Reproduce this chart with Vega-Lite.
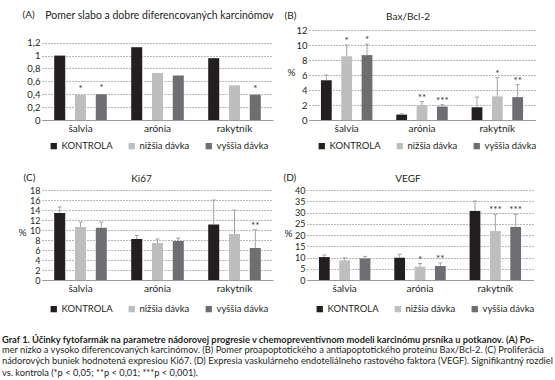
{
  "$schema": "https://vega.github.io/schema/vega-lite/v6.json",
  "padding": {"left": 1, "top": 9, "right": 0, "bottom": 0},
  "autosize": {"type": "pad"},
  "background": "white",
  "config": {
    "font": "Lato",
    "view": {"stroke": null},
    "axis": {"labelFont": "Lato", "labelFontSize": 10, "labelColor": "#231f20", "titleFont": "Lato", "titleFontSize": 10, "titleFontWeight": "normal", "titleColor": "#231f20"},
    "axisX": {"ticks": false, "domainColor": "#9a9a9a", "domainWidth": 1, "labelAngle": 0, "labelPadding": 3, "grid": false},
    "axisY": {"ticks": false, "domain": false, "labelPadding": 2, "labelFontSize": 9.5, "grid": true, "gridColor": "#6d6e71", "gridWidth": 1, "gridDash": [1, 2], "labelOverlap": false},
    "legend": {"orient": "none", "direction": "horizontal", "symbolType": "square", "symbolSize": 40, "symbolStrokeWidth": 0, "labelFont": "Lato", "labelFontSize": 9.5, "labelColor": "#231f20", "columnPadding": 14, "labelOffset": 3, "padding": 0},
    "title": {"font": "Lato", "fontSize": 10, "fontWeight": "normal", "color": "#231f20", "frame": "group"}
  },
  "title": {
    "text": "Graf 1. Účinky fytofarmák na parametre nádorovej progresie v chemopreventívnom modeli karcinómu prsníka u potkanov. (A) Po-",
    "subtitle": [
      "mer nízko a vysoko diferencovaných karcinómov. (B) Pomer proapoptotického a antiapoptotického proteínu Bax/Bcl-2. (C) Proliferácia",
      "nádorových buniek hodnotená expresiou Ki67. (D) Expresia vaskulárneho endoteliálneho rastového faktora (VEGF). Signifikantný rozdiel",
      "vs. kontrola (*p < 0,05; **p < 0,01; ***p < 0,001)."
    ],
    "orient": "bottom", "anchor": "start", "frame": "bounds", "dx": -16, "offset": 22,
    "font": "Lato", "fontSize": 9.3, "fontWeight": "bold", "color": "#231f20",
    "subtitleFont": "Lato", "subtitleFontSize": 9.3, "subtitleColor": "#231f20", "subtitleLineHeight": 11.7, "subtitlePadding": 0.5
  },
  "datasets": {
    "d": [
      {"panel": "A", "plant": "šalvia", "dose": "KONTROLA", "value": 1.0, "hi": 1.0, "sig": ""},
      {"panel": "A", "plant": "šalvia", "dose": "nižšia dávka", "value": 0.39, "hi": 0.39, "sig": "*"},
      {"panel": "A", "plant": "šalvia", "dose": "vyššia dávka", "value": 0.40, "hi": 0.40, "sig": "*"},
      {"panel": "A", "plant": "arónia", "dose": "KONTROLA", "value": 1.13, "hi": 1.13, "sig": ""},
      {"panel": "A", "plant": "arónia", "dose": "nižšia dávka", "value": 0.73, "hi": 0.73, "sig": ""},
      {"panel": "A", "plant": "arónia", "dose": "vyššia dávka", "value": 0.69, "hi": 0.69, "sig": ""},
      {"panel": "A", "plant": "rakytník", "dose": "KONTROLA", "value": 0.96, "hi": 0.96, "sig": ""},
      {"panel": "A", "plant": "rakytník", "dose": "nižšia dávka", "value": 0.54, "hi": 0.54, "sig": ""},
      {"panel": "A", "plant": "rakytník", "dose": "vyššia dávka", "value": 0.39, "hi": 0.39, "sig": "*"},
      {"panel": "B", "plant": "šalvia", "dose": "KONTROLA", "value": 5.3, "hi": 6.0, "sig": ""},
      {"panel": "B", "plant": "šalvia", "dose": "nižšia dávka", "value": 8.5, "hi": 10.0, "sig": "*"},
      {"panel": "B", "plant": "šalvia", "dose": "vyššia dávka", "value": 8.65, "hi": 10.1, "sig": "*"},
      {"panel": "B", "plant": "arónia", "dose": "KONTROLA", "value": 0.72, "hi": 0.82, "sig": ""},
      {"panel": "B", "plant": "arónia", "dose": "nižšia dávka", "value": 2.0, "hi": 2.45, "sig": "**"},
      {"panel": "B", "plant": "arónia", "dose": "vyššia dávka", "value": 1.8, "hi": 2.05, "sig": "***"},
      {"panel": "B", "plant": "rakytník", "dose": "KONTROLA", "value": 1.7, "hi": 3.05, "sig": ""},
      {"panel": "B", "plant": "rakytník", "dose": "nižšia dávka", "value": 3.15, "hi": 5.65, "sig": "*"},
      {"panel": "B", "plant": "rakytník", "dose": "vyššia dávka", "value": 3.05, "hi": 4.7, "sig": "**"},
      {"panel": "C", "plant": "šalvia", "dose": "KONTROLA", "value": 13.4, "hi": 14.6, "sig": ""},
      {"panel": "C", "plant": "šalvia", "dose": "nižšia dávka", "value": 10.6, "hi": 11.6, "sig": ""},
      {"panel": "C", "plant": "šalvia", "dose": "vyššia dávka", "value": 10.45, "hi": 11.6, "sig": ""},
      {"panel": "C", "plant": "arónia", "dose": "KONTROLA", "value": 8.2, "hi": 8.9, "sig": ""},
      {"panel": "C", "plant": "arónia", "dose": "nižšia dávka", "value": 7.4, "hi": 8.2, "sig": ""},
      {"panel": "C", "plant": "arónia", "dose": "vyššia dávka", "value": 7.8, "hi": 8.4, "sig": ""},
      {"panel": "C", "plant": "rakytník", "dose": "KONTROLA", "value": 11.1, "hi": 16.0, "sig": ""},
      {"panel": "C", "plant": "rakytník", "dose": "nižšia dávka", "value": 9.2, "hi": 14.0, "sig": ""},
      {"panel": "C", "plant": "rakytník", "dose": "vyššia dávka", "value": 6.4, "hi": 10.05, "sig": "**"},
      {"panel": "D", "plant": "šalvia", "dose": "KONTROLA", "value": 10.2, "hi": 11.1, "sig": ""},
      {"panel": "D", "plant": "šalvia", "dose": "nižšia dávka", "value": 8.7, "hi": 9.9, "sig": ""},
      {"panel": "D", "plant": "šalvia", "dose": "vyššia dávka", "value": 9.6, "hi": 10.5, "sig": ""},
      {"panel": "D", "plant": "arónia", "dose": "KONTROLA", "value": 9.9, "hi": 11.4, "sig": ""},
      {"panel": "D", "plant": "arónia", "dose": "nižšia dávka", "value": 5.9, "hi": 7.3, "sig": "*"},
      {"panel": "D", "plant": "arónia", "dose": "vyššia dávka", "value": 6.2, "hi": 7.6, "sig": "**"},
      {"panel": "D", "plant": "rakytník", "dose": "KONTROLA", "value": 30.7, "hi": 35.1, "sig": ""},
      {"panel": "D", "plant": "rakytník", "dose": "nižšia dávka", "value": 21.8, "hi": 29.2, "sig": "***"},
      {"panel": "D", "plant": "rakytník", "dose": "vyššia dávka", "value": 23.6, "hi": 29.2, "sig": "***"}
    ]
  },
  "spacing": 21,
  "resolve": {"scale": {"color": "independent", "y": "independent", "x": "independent", "xOffset": "independent"}, "legend": {"color": "independent"}},
  "vconcat": [
    {
      "spacing": 10,
      "resolve": {"scale": {"color": "independent", "y": "independent", "x": "independent", "xOffset": "independent"}, "legend": {"color": "independent"}},
      "hconcat": [
        {
          "width": 231, "height": 90,
          "data": {"name": "d"},
          "transform": [{"filter": "datum.panel == 'A'"}],
          "title": {"text": "Pomer slabo a dobre diferencovaných karcinómov", "dx": 2, "offset": -12, "fontSize": 10.5},
          "encoding": {
            "x": {"field": "plant", "type": "nominal", "sort": ["šalvia", "arónia", "rakytník"], "scale": {"paddingInner": 0.19, "paddingOuter": 0.095},
                  "axis": {"title": "(A)", "titleX": -20, "titleY": -106, "titleAlign": "left", "titleBaseline": "middle", "titleAngle": 0}},
            "xOffset": {"field": "dose", "type": "nominal", "sort": ["KONTROLA", "nižšia dávka", "vyššia dávka"], "scale": {"paddingInner": 0.47, "paddingOuter": 0.235}}
          },
          "layer": [
            {
              "mark": {"type": "bar"},
              "encoding": {
                "y": {"field": "value", "type": "quantitative", "scale": {"domain": [0, 1.397], "nice": false},
                      "axis": {"title": null, "labelOverlap": false, "values": [0, 0.2, 0.4, 0.6, 0.8, 1, 1.2], "labelExpr": "replace(format(datum.value, '~g'), '.', ',')"}},
                "color": {"field": "dose", "type": "nominal", "scale": {"domain": ["KONTROLA", "nižšia dávka", "vyššia dávka"], "range": ["#231f20", "#bcbec0", "#6d6e71"]}, "legend": {"title": null, "legendX": 7, "legendY": 111}}
              }
            },
            {
              "mark": {"type": "text", "baseline": "alphabetic", "dy": -3, "fontSize": 10, "color": "#333333"},
              "encoding": {
                "y": {"field": "hi", "type": "quantitative", "scale": {"domain": [0, 1.397], "nice": false},
                      "axis": {"title": null, "labelOverlap": false, "values": [0, 0.2, 0.4, 0.6, 0.8, 1, 1.2], "labelExpr": "replace(format(datum.value, '~g'), '.', ',')"}},
                "text": {"field": "sig"}
              }
            }
          ]
        },
        {
          "width": 226, "height": 90,
          "data": {"name": "d"},
          "transform": [{"filter": "datum.panel == 'B'"}],
          "title": {"text": "Bax/Bcl-2", "dx": -14, "offset": -12},
          "encoding": {
            "x": {"field": "plant", "type": "nominal", "sort": ["šalvia", "arónia", "rakytník"], "scale": {"paddingInner": 0.19, "paddingOuter": 0.095},
                  "axis": {"title": "(B)", "titleX": -25, "titleY": -105, "titleAlign": "left", "titleBaseline": "middle", "titleAngle": 0}},
            "xOffset": {"field": "dose", "type": "nominal", "sort": ["KONTROLA", "nižšia dávka", "vyššia dávka"], "scale": {"paddingInner": 0.47, "paddingOuter": 0.235}}
          },
          "layer": [
            {
              "mark": {"type": "bar"},
              "encoding": {
                "y": {"field": "value", "type": "quantitative", "scale": {"domain": [0, 12], "nice": false},
                      "axis": {"title": "%", "labelOverlap": false, "titleAngle": 0, "titleX": -18, "titleY": 42, "titleAlign": "center", "titleBaseline": "middle", "values": [0, 2, 4, 6, 8, 10, 12]}},
                "color": {"field": "dose", "type": "nominal", "scale": {"domain": ["KONTROLA", "nižšia dávka", "vyššia dávka"], "range": ["#231f20", "#bcbec0", "#6d6e71"]}, "legend": {"title": null, "legendX": 8, "legendY": 111}}
              }
            },
            {
              "mark": {"type": "rule", "color": "#a0a2a5", "strokeWidth": 1},
              "encoding": {
                "y": {"field": "value", "type": "quantitative", "scale": {"domain": [0, 12], "nice": false},
                      "axis": {"title": "%", "labelOverlap": false, "titleAngle": 0, "titleX": -18, "titleY": 42, "titleAlign": "center", "titleBaseline": "middle", "values": [0, 2, 4, 6, 8, 10, 12]}},
                "y2": {"field": "hi"}
              }
            },
            {
              "mark": {"type": "point", "shape": "M-1,0L1,0", "size": 16, "filled": false, "color": "#a0a2a5", "strokeWidth": 1, "opacity": 1},
              "encoding": {
                "y": {"field": "hi", "type": "quantitative", "scale": {"domain": [0, 12], "nice": false},
                      "axis": {"title": "%", "labelOverlap": false, "titleAngle": 0, "titleX": -18, "titleY": 42, "titleAlign": "center", "titleBaseline": "middle", "values": [0, 2, 4, 6, 8, 10, 12]}}
              }
            },
            {
              "mark": {"type": "text", "baseline": "alphabetic", "dy": -1, "fontSize": 10, "color": "#333333"},
              "encoding": {
                "y": {"field": "hi", "type": "quantitative", "scale": {"domain": [0, 12], "nice": false},
                      "axis": {"title": "%", "labelOverlap": false, "titleAngle": 0, "titleX": -18, "titleY": 42, "titleAlign": "center", "titleBaseline": "middle", "values": [0, 2, 4, 6, 8, 10, 12]}},
                "text": {"field": "sig"}
              }
            }
          ]
        }
      ]
    },
    {
      "spacing": 10,
      "resolve": {"scale": {"color": "independent", "y": "independent", "x": "independent", "xOffset": "independent"}, "legend": {"color": "independent"}},
      "hconcat": [
        {
          "width": 231, "height": 90,
          "data": {"name": "d"},
          "transform": [{"filter": "datum.panel == 'C'"}],
          "title": {"text": "Ki67", "dx": -16, "offset": -12},
          "encoding": {
            "x": {"field": "plant", "type": "nominal", "sort": ["šalvia", "arónia", "rakytník"], "scale": {"paddingInner": 0.19, "paddingOuter": 0.095},
                  "axis": {"title": "(C)", "titleX": -19, "titleY": -103, "titleAlign": "left", "titleBaseline": "middle", "titleAngle": 0}},
            "xOffset": {"field": "dose", "type": "nominal", "sort": ["KONTROLA", "nižšia dávka", "vyššia dávka"], "scale": {"paddingInner": 0.47, "paddingOuter": 0.235}}
          },
          "layer": [
            {
              "mark": {"type": "bar"},
              "encoding": {
                "y": {"field": "value", "type": "quantitative", "scale": {"domain": [0, 18], "nice": false},
                      "axis": {"title": "%", "labelFontSize": 9, "labelOverlap": false, "titleAngle": 0, "titleX": -20, "titleY": 42, "titleAlign": "center", "titleBaseline": "middle", "values": [0, 2, 4, 6, 8, 10, 12, 14, 16, 18]}},
                "color": {"field": "dose", "type": "nominal", "scale": {"domain": ["KONTROLA", "nižšia dávka", "vyššia dávka"], "range": ["#231f20", "#bcbec0", "#6d6e71"]}, "legend": {"title": null, "legendX": 7, "legendY": 114}}
              }
            },
            {
              "mark": {"type": "rule", "color": "#a0a2a5", "strokeWidth": 1},
              "encoding": {
                "y": {"field": "value", "type": "quantitative", "scale": {"domain": [0, 18], "nice": false},
                      "axis": {"title": "%", "labelFontSize": 9, "labelOverlap": false, "titleAngle": 0, "titleX": -20, "titleY": 42, "titleAlign": "center", "titleBaseline": "middle", "values": [0, 2, 4, 6, 8, 10, 12, 14, 16, 18]}},
                "y2": {"field": "hi"}
              }
            },
            {
              "mark": {"type": "point", "shape": "M-1,0L1,0", "size": 16, "filled": false, "color": "#a0a2a5", "strokeWidth": 1, "opacity": 1},
              "encoding": {
                "y": {"field": "hi", "type": "quantitative", "scale": {"domain": [0, 18], "nice": false},
                      "axis": {"title": "%", "labelFontSize": 9, "labelOverlap": false, "titleAngle": 0, "titleX": -20, "titleY": 42, "titleAlign": "center", "titleBaseline": "middle", "values": [0, 2, 4, 6, 8, 10, 12, 14, 16, 18]}}
              }
            },
            {
              "mark": {"type": "text", "baseline": "alphabetic", "dy": -1, "fontSize": 10, "color": "#333333"},
              "encoding": {
                "y": {"field": "hi", "type": "quantitative", "scale": {"domain": [0, 18], "nice": false},
                      "axis": {"title": "%", "labelFontSize": 9, "labelOverlap": false, "titleAngle": 0, "titleX": -20, "titleY": 42, "titleAlign": "center", "titleBaseline": "middle", "values": [0, 2, 4, 6, 8, 10, 12, 14, 16, 18]}},
                "text": {"field": "sig"}
              }
            }
          ]
        },
        {
          "width": 226, "height": 90,
          "data": {"name": "d"},
          "transform": [{"filter": "datum.panel == 'D'"}],
          "title": {"text": "VEGF", "dx": -12, "offset": -12},
          "encoding": {
            "x": {"field": "plant", "type": "nominal", "sort": ["šalvia", "arónia", "rakytník"], "scale": {"paddingInner": 0.19, "paddingOuter": 0.095},
                  "axis": {"title": "(D)", "titleX": -24, "titleY": -103, "titleAlign": "left", "titleBaseline": "middle", "titleAngle": 0}},
            "xOffset": {"field": "dose", "type": "nominal", "sort": ["KONTROLA", "nižšia dávka", "vyššia dávka"], "scale": {"paddingInner": 0.47, "paddingOuter": 0.235}}
          },
          "layer": [
            {
              "mark": {"type": "bar"},
              "encoding": {
                "y": {"field": "value", "type": "quantitative", "scale": {"domain": [0, 40], "nice": false},
                      "axis": {"title": "%", "labelFontSize": 9, "labelOverlap": false, "titleAngle": 0, "titleX": -19, "titleY": 43, "titleAlign": "center", "titleBaseline": "middle", "values": [0, 5, 10, 15, 20, 25, 30, 35, 40]}},
                "color": {"field": "dose", "type": "nominal", "scale": {"domain": ["KONTROLA", "nižšia dávka", "vyššia dávka"], "range": ["#231f20", "#bcbec0", "#6d6e71"]}, "legend": {"title": null, "legendX": 8, "legendY": 114}}
              }
            },
            {
              "mark": {"type": "rule", "color": "#a0a2a5", "strokeWidth": 1},
              "encoding": {
                "y": {"field": "value", "type": "quantitative", "scale": {"domain": [0, 40], "nice": false},
                      "axis": {"title": "%", "labelFontSize": 9, "labelOverlap": false, "titleAngle": 0, "titleX": -19, "titleY": 43, "titleAlign": "center", "titleBaseline": "middle", "values": [0, 5, 10, 15, 20, 25, 30, 35, 40]}},
                "y2": {"field": "hi"}
              }
            },
            {
              "mark": {"type": "point", "shape": "M-1,0L1,0", "size": 16, "filled": false, "color": "#a0a2a5", "strokeWidth": 1, "opacity": 1},
              "encoding": {
                "y": {"field": "hi", "type": "quantitative", "scale": {"domain": [0, 40], "nice": false},
                      "axis": {"title": "%", "labelFontSize": 9, "labelOverlap": false, "titleAngle": 0, "titleX": -19, "titleY": 43, "titleAlign": "center", "titleBaseline": "middle", "values": [0, 5, 10, 15, 20, 25, 30, 35, 40]}}
              }
            },
            {
              "mark": {"type": "text", "baseline": "alphabetic", "dy": -1, "fontSize": 10, "color": "#333333"},
              "encoding": {
                "y": {"field": "hi", "type": "quantitative", "scale": {"domain": [0, 40], "nice": false},
                      "axis": {"title": "%", "labelFontSize": 9, "labelOverlap": false, "titleAngle": 0, "titleX": -19, "titleY": 43, "titleAlign": "center", "titleBaseline": "middle", "values": [0, 5, 10, 15, 20, 25, 30, 35, 40]}},
                "text": {"field": "sig"}
              }
            }
          ]
        }
      ]
    }
  ]
}
